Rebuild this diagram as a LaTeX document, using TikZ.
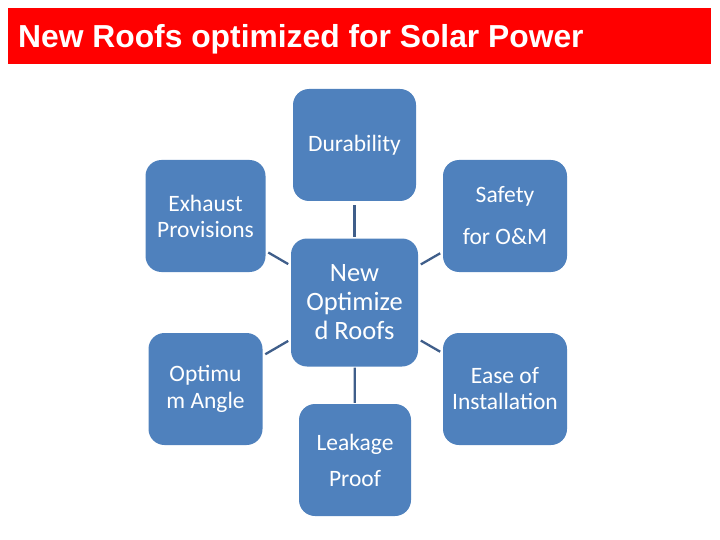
\documentclass[tikz,border=0pt]{standalone}
\usepackage{fontspec}
\setmainfont{Carlito}
\newfontfamily\titlefont{Liberation Sans}
\definecolor{titlered}{RGB}{255,0,0}
\definecolor{boxblue}{RGB}{79,129,189}
\definecolor{linkblue}{RGB}{63,94,138}
\begin{document}
\begin{tikzpicture}[x=1pt,y=-1pt,
  box/.style={fill=boxblue, rounded corners=16pt, inner sep=0pt, align=center,
    text=white, font=\fontsize{23.5}{26}\selectfont},
  link/.style={draw=linkblue, line width=2.3pt, shorten <=3pt, shorten >=3pt}]
\useasboundingbox (0,0) rectangle (720,540);
\fill[titlered] (8,8) rectangle (711,64);
\node[anchor=base west, inner sep=0pt, text=white, font=\titlefont\bfseries\fontsize{31.8}{36}\selectfont] (title) at (18,47.5) {New Roofs optimized for Solar Power};
\node[box, minimum width=123pt, minimum height=112pt] (dur) at (354.5,145) {Durability};
\node[box, minimum width=120pt, minimum height=112pt] (exh) at (205.5,216) {Exhaust\\Provisions};
\node[box, minimum width=124pt, minimum height=112pt, font=\fontsize{23.5}{42}\selectfont] (saf) at (505,216) {Safety\\for O\&M};
\node[box, minimum width=127pt, minimum height=128pt, font=\fontsize{26.5}{29}\selectfont] (ctr) at (354.5,302.5) {New\\Optimize\\d Roofs};
\node[box, minimum width=114pt, minimum height=112pt, font=\fontsize{23.5}{27.5}\selectfont] (opt) at (205.5,389) {Optimu\\m Angle};
\node[box, minimum width=124pt, minimum height=112pt] (ease) at (505,389) {Ease of\\Installation};
\node[box, minimum width=112pt, minimum height=112pt, font=\fontsize{23.5}{36}\selectfont] (leak) at (355,460) {Leakage\\Proof};
\draw[link, shorten <=4pt, shorten >=1pt] (dur) -- (ctr);
\draw[link, shorten <=1pt, shorten >=1pt] (ctr) -- (leak);
\draw[link] (exh) -- (ctr);
\draw[link] (saf) -- (ctr);
\draw[link] (opt) -- (ctr);
\draw[link] (ease) -- (ctr);
\end{tikzpicture}
\end{document}
